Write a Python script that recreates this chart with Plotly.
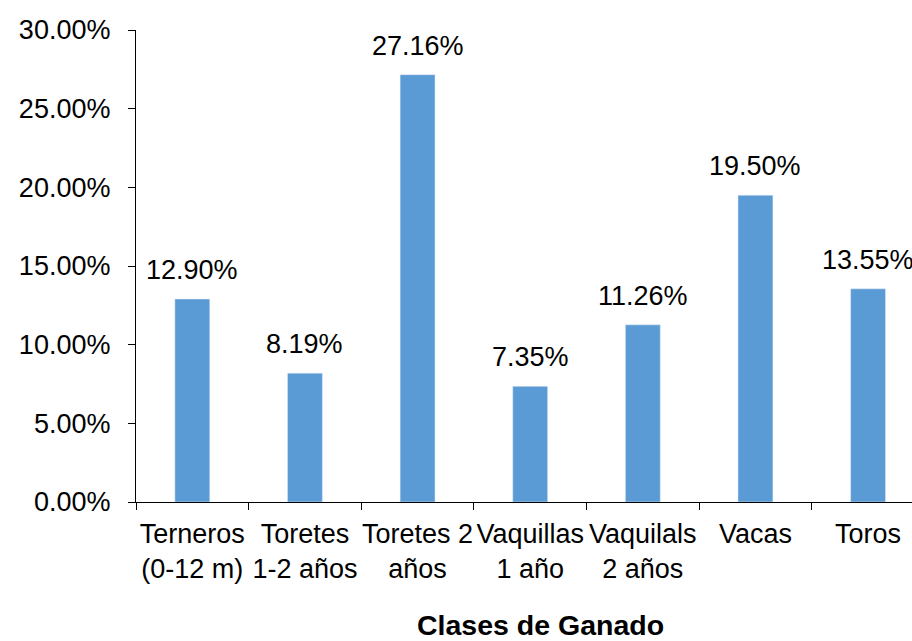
import plotly.graph_objects as go

categories = ["Terneros<br>(0-12 m)", "Toretes<br>1-2 años", "Toretes 2<br>años",
              "Vaquillas<br>1 año", "Vaquilals<br>2 años", "Vacas", "Toros"]
values = [12.90, 8.19, 27.16, 7.35, 11.26, 19.50, 13.55]
labels = [f"{v:.2f}%" for v in values]
y_ticks = [0, 5, 10, 15, 20, 25, 30]
y_tick_text = [f"{t:.2f}%" for t in y_ticks]

FONT = "Liberation Sans, Arial, sans-serif"
FS = 27

fig = go.Figure(go.Bar(
    x=categories,
    y=values,
    marker=dict(color="#5B9BD5"),
    width=0.31,
))

for c, v, t in zip(categories, values, labels):
    fig.add_annotation(x=c, y=v, text=t, showarrow=False, yanchor="bottom",
                       yshift=12, font=dict(family=FONT, size=FS, color="black"))

fig.update_layout(
    width=912, height=641,
    margin=dict(l=136, r=0, t=30, b=139, autoexpand=False),
    paper_bgcolor="white", plot_bgcolor="white",
    font=dict(family=FONT, size=FS, color="black"),
    showlegend=False,
    xaxis=dict(
        type="category", range=[-0.5, 6.39], tickangle=0, automargin=False,
        showline=True, linecolor="black", linewidth=1.3,
        ticks="outside", tickson="boundaries", ticklen=7, tickcolor="black", tickwidth=1.3,
        showgrid=False, zeroline=False,
        ticklabelstandoff=7,
        tickfont=dict(family=FONT, size=FS, color="black"),
    ),
    yaxis=dict(
        range=[0, 30], tickvals=y_ticks, ticktext=y_tick_text, automargin=False,
        showline=True, linecolor="black", linewidth=1.3,
        ticks="outside", ticklen=7, tickcolor="black", tickwidth=1.3,
        showgrid=False, zeroline=False,
        ticklabelstandoff=12,
        tickfont=dict(family=FONT, size=FS, color="black"),
    ),
)

plot_h = 641 - 30 - 139
fig.add_annotation(
    text="<b>Clases de Ganado</b>", x=(540 - 136) / 776, xref="paper",
    y=(641 - 139 - 625) / plot_h, yref="paper", yanchor="middle", showarrow=False,
    font=dict(family=FONT, size=28.5, color="black"),
)

fig.write_html("out.html", config={"displayModeBar": False},
               post_script="document.body.style.margin='0';")
